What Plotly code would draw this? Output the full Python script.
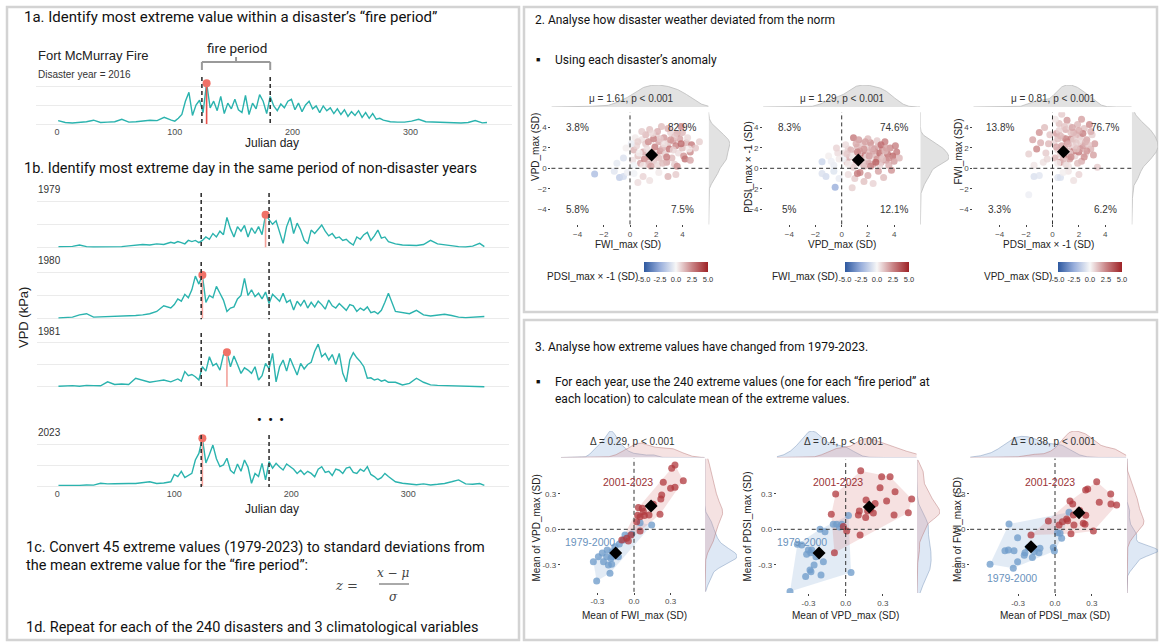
import numpy as np
import plotly.graph_objects as go

W, H = 1160, 643
SLIDE = "Roboto"
GG = "Liberation Sans"
TEAL = "#2bb3ae"
SALMON = "#f07167"

# ---------------- DATA: panel 1 (daily VPD, kPa) ----------------
DAYS_EARLY = list(range(1, 98, 6))
DAYS_ACTIVE = list(range(100, 284, 3))
DAYS_LATE = list(range(289, 362, 6)) + [365]
DAYS = DAYS_EARLY + DAYS_ACTIVE + DAYS_LATE
FIRE_START, FIRE_END = 123, 181

VPD_2016 = ([0.18, 0.08, 0.05, 0.07, 0.12, 0.2, 0.08, 0.1, 0.12, 0.25, 0.1, 0.12, 0.15, 0.2, 0.18, 0.35, 0.2] +
            [0.15, 0.3, 0.5, 1.2, 1.67, 0.45, 1.0, 1.25, 0.6, 2.15,
             0.85, 1.2, 0.7, 1.45, 0.55, 1.1, 0.8, 1.3, 0.75, 0.6,
             1.5, 0.5, 1.1, 0.8, 1.55, 1.2, 0.55, 1.45, 0.95, 0.7,
             1.05, 0.85, 1.2, 1.3, 0.75, 1.1, 0.65, 1.0, 1.2, 0.8,
             0.95, 0.6, 0.95, 0.7, 0.85, 0.55, 0.8, 0.5, 0.75, 0.4,
             0.65, 0.45, 0.7, 0.35, 0.6, 0.3, 0.55, 0.25, 0.3, 0.2,
             0.15, 0.12] +
            [0.1, 0.1, 0.15, 0.25, 0.12, 0.1, 0.08, 0.06, 0.05, 0.05, 0.08, 0.18, 0.06, 0.08])
VPD_1979 = ([0.03, 0.02, 0.04, 0.1, 0.03, 0.02, 0.02, 0.03, 0.04, 0.03, 0.06, 0.08, 0.12, 0.1, 0.15, 0.12, 0.22] +
            [0.18, 0.25, 0.2, 0.15, 0.3, 0.25, 0.3, 0.2, 0.3, 0.45,
             0.35, 0.6, 0.45, 0.7, 0.55, 1.3, 0.8, 0.45, 0.9, 0.7,
             0.95, 0.45, 0.85, 0.6, 0.9, 0.55, 1.41, 1.2, 1.0, 1.15,
             0.6, 0.17, 0.9, 1.3, 0.6, 1.05, 0.75, 0.3, 0.15, 0.75,
             0.6, 0.8, 0.97, 0.7, 0.5, 0.6, 0.4, 0.45, 0.3, 0.35,
             0.2, 0.1, 0.45, 0.35, 0.55, 0.65, 0.3, 0.5, 0.75, 0.4,
             0.45, 0.25] +
            [0.15, 0.1, 0.1, 0.08, 0.12, 0.3, 0.15, 0.1, 0.08, 0.03, 0.02, 0.05, 0.17, 0.03])
VPD_1980 = ([0.02, 0.03, 0.05, 0.15, 0.2, 0.05, 0.06, 0.08, 0.06, 0.1, 0.08, 0.12, 0.15, 0.2, 0.3, 0.55, 0.45] +
            [0.6, 0.85, 0.75, 1.05, 0.9, 1.25, 1.85, 1.5, 1.9, 0.7,
             1.0, 0.9, 1.4, 1.1, 0.8, 0.3, 0.45, 0.5, 0.85, 1.0,
             1.75, 1.0, 1.25, 0.95, 1.1, 0.85, 1.15, 0.65, 1.05, 0.9,
             0.75, 1.1, 0.7, 0.8, 0.36, 0.75, 0.55, 0.8, 0.45, 0.7,
             0.5, 0.75, 0.6, 0.4, 0.8, 0.55, 0.45, 0.65, 0.5, 0.35,
             0.6, 0.55, 0.3, 0.45, 0.35, 0.5, 0.25, 0.3, 0.2, 0.35,
             0.7, 1.1] +
            [0.3, 0.25, 0.2, 0.35, 0.15, 0.1, 0.15, 0.18, 0.12, 0.05, 0.03, 0.04, 0.05, 0.08])
VPD_1981 = ([0.02, 0.03, 0.05, 0.02, 0.06, 0.05, 0.04, 0.22, 0.1, 0.12, 0.1, 0.38, 0.3, 0.2, 0.25, 0.3, 0.22] +
            [0.28, 0.35, 0.25, 0.68, 0.5, 0.55, 0.45, 0.3, 0.9, 0.7,
             1.35, 0.95, 1.05, 0.75, 1.43, 1.55, 0.9, 1.38, 1.0, 0.6,
             0.85, 0.75, 0.6, 0.9, 0.3, 0.5, 1.05, 0.8, 1.5, 0.22,
             0.9, 1.2, 0.7, 1.28, 0.9, 0.53, 1.05, 0.8, 1.0, 1.1,
             1.6, 1.92, 1.35, 1.5, 1.2, 1.45, 1.0, 1.5, 0.6, 0.22,
             1.2, 1.53, 1.3, 1.13, 0.9, 0.38, 0.4, 0.3, 0.35, 0.25,
             0.3, 0.2] +
            [0.2, 0.08, 0.15, 0.38, 0.2, 0.08, 0.06, 0.05, 0.04, 0.02, 0.02, 0.02, 0.02, 0.0])
VPD_2023 = ([0.03, 0.02, 0.04, 0.03, 0.05, 0.04, 0.13, 0.1, 0.11, 0.1, 0.12, 0.12, 0.15, 0.2, 0.12, 0.14, 0.2] +
            [0.55, 0.45, 0.7, 0.4, 0.5, 0.6, 1.24, 1.55, 2.27, 1.1,
             1.5, 1.95, 1.3, 0.92, 1.0, 1.32, 0.75, 0.6, 1.05, 0.7,
             1.24, 0.9, 0.13, 0.6, 0.45, 1.08, 0.29, 1.16, 0.85, 1.08,
             0.9, 0.76, 1.05, 0.92, 0.8, 0.6, 0.75, 0.55, 0.7, 0.6,
             0.44, 0.8, 0.92, 0.65, 0.7, 0.5, 0.8, 0.75, 0.6, 0.85,
             0.9, 0.65, 0.6, 0.8, 0.7, 0.92, 0.55, 0.45, 0.3, 0.4,
             0.6, 0.45] +
            [0.2, 0.13, 0.08, 0.06, 0.1, 0.05, 0.08, 0.12, 0.2, 0.29, 0.1, 0.08, 0.12, 0.03])

# ---------------- DATA: panel 2 (anomalies, SD) ----------------
# (FWI_max, VPD_max, PDSI_max x -1)
S2A = [(0.3,1.8,1.5),(0.5,2.2,0.8),(0.6,1.2,1.2),(0.8,0.5,2.0),(0.9,2.8,0.5),(1.0,1.6,1.8),(1.1,0.9,2.5),(1.2,2.4,1.0),(1.3,1.9,0.6),(1.4,0.4,1.6),
       (1.5,3.8,1.2),(1.5,1.1,2.2),(1.6,2.7,0.4),(1.7,1.5,1.9),(1.8,0.7,1.1),(1.9,2.1,2.8),(2.0,3.2,0.9),(2.0,1.3,1.5),(2.1,0.3,0.7),(2.2,2.6,1.8),
       (2.3,1.7,2.4),(2.4,4.1,1.3),(2.4,0.9,0.5),(2.5,2.0,1.6),(2.6,3.0,2.1),(2.7,1.4,0.9),(2.8,0.6,1.8),(2.9,2.4,1.2),(3.0,1.9,3.0),(3.1,3.5,0.8),
       (3.2,1.0,1.4),(3.3,2.7,2.0),(3.4,0.4,1.0),(3.5,2.2,2.6),(3.6,3.4,1.7),(3.7,1.5,0.6),(3.8,2.9,1.9),(3.9,4.1,2.5),(4.0,2.0,1.3),(4.1,1.2,2.2),
       (4.2,0.9,3.0),(4.3,2.5,1.5),(4.4,3.0,0.7),(4.6,1.6,2.4),(4.6,0.8,1.8),(4.7,2.3,2.8),(5.0,2.0,1.1),(5.3,2.6,0.9),(0.2,0.8,0.6),(0.4,3.0,0.3),
       (0.7,1.5,0.2),(1.2,3.3,1.4),(1.6,0.2,1.9),(1.8,2.9,2.6),(2.2,1.0,1.2),(2.6,2.4,0.5),(2.9,3.9,1.6),(3.3,1.8,0.8),(3.6,0.2,2.3),(0.1,2.4,-0.4),
       (0.9,3.6,1.0),(1.4,2.6,2.3),(2.1,3.6,1.6),(2.8,1.1,2.7),(3.4,3.1,1.1),(4.0,3.5,1.4),(4.5,1.9,0.3),(1.0,0.3,0.4),(2.5,0.5,1.3),(0.3,0.3,-0.2),
       (1.7,3.4,0.7),(3.1,2.8,2.2),(3.9,2.4,3.2),(0.6,2.6,0.9),(2.3,2.9,1.0),
       (-0.5,1.0,-0.8),(-0.3,2.0,0.2),(-1.0,0.5,-0.5),
       (-2.7,-0.55,-2.0),(-0.8,-0.9,-1.5),(-0.5,-0.8,-1.0),(-1.2,-0.3,-0.6),(-0.2,-0.4,-0.3),
       (1.0,-0.8,0.8),(2.9,-0.8,1.5),(0.3,-0.5,-0.2),(1.5,-1.2,0.5),(3.5,-0.6,1.0),(2.2,-0.4,0.3),(0.6,-1.4,0.6)]
# (VPD_max, PDSI_max x -1, FWI_max)
S2B = [(0.2,1.5,0.5),(0.4,0.6,1.2),(0.5,1.9,0.8),(0.6,1.1,1.6),(0.8,0.3,0.4),(0.9,3.0,2.8),(1.0,1.4,1.0),(1.1,0.8,2.2),(1.2,2.1,1.4),(1.3,0.5,0.7),
       (1.4,1.7,1.9),(1.5,1.0,2.6),(1.6,2.4,1.1),(1.7,0.2,1.5),(1.8,1.3,3.0),(1.9,2.0,0.9),(2.0,0.7,2.0),(2.1,1.6,1.3),(2.2,2.5,2.4),(2.3,1.1,0.6),
       (2.4,0.4,1.7),(2.5,1.9,2.9),(2.6,1.3,1.2),(2.7,0.9,2.2),(2.8,2.2,1.5),(2.9,1.5,3.2),(3.0,0.6,1.8),(3.1,1.8,2.5),(3.2,1.1,1.0),(3.3,2.6,2.7),
       (3.4,0.8,2.1),(3.5,1.4,3.0),(3.6,0.3,1.6),(3.7,2.0,2.4),(3.9,1.2,3.3),(4.0,0.7,2.0),(4.2,1.6,2.8),(4.4,1.0,1.4),(0.1,0.9,-0.2),(0.3,2.3,0.6),
       (0.7,1.8,1.5),(0.9,0.1,0.9),(1.3,2.8,2.0),(1.6,0.6,1.1),(1.9,1.1,0.5),(2.2,0.2,2.6),(2.4,1.7,1.8),(2.7,2.7,1.0),(3.0,2.3,3.1),(3.3,1.7,1.3),
       (3.6,1.0,2.3),(0.5,0.4,0.3),(1.1,2.4,1.7),(1.7,1.9,2.2),(2.0,2.9,1.4),(2.9,0.3,0.8),(3.4,2.0,1.9),(4.1,2.2,2.6),(0.8,1.2,0.2),(1.4,0.9,1.3),
       (2.6,0.6,3.4),(1.2,1.6,2.5),(2.3,2.0,1.6),(3.1,0.9,1.2),(1.8,2.6,1.9),(0.4,1.4,1.0),(2.1,1.2,2.0),
       (-1.5,0.65,-1.2),(-0.3,1.5,0.6),(-0.6,0.3,-0.4),(-0.2,0.9,0.3),(-1.0,1.2,0.2),(-0.4,2.0,0.8),(-0.8,0.7,-0.3),
       (-1.2,-0.8,-1.0),(-0.6,-0.3,-0.7),(-0.5,-1.85,-2.5),(-1.5,-0.5,-0.8),(-0.2,-1.0,-0.4),
       (0.5,-0.6,0.6),(1.0,-1.0,1.0),(1.4,-0.4,2.5),(1.7,-1.3,1.2),(2.0,-0.7,1.6),(2.4,-1.5,0.8),(2.8,-0.3,1.9),(0.8,-1.9,0.9),(3.2,-0.9,1.3),(1.2,-0.5,2.8),(3.8,-0.2,2.2)]
# (PDSI_max x -1, FWI_max, VPD_max)
S2C = [(0.1,2.5,0.8),(0.2,1.0,1.5),(0.3,3.4,2.0),(0.4,1.8,0.6),(0.5,4.4,1.2),(0.6,0.6,2.5),(0.7,5.3,1.0),(0.7,2.2,1.8),(0.8,3.0,0.9),(0.9,1.3,2.8),
       (1.0,3.8,1.6),(1.0,0.4,0.7),(1.1,2.6,2.2),(1.2,1.7,1.3),(1.3,4.1,0.5),(1.3,0.9,1.9),(1.4,2.9,2.6),(1.5,2.0,1.1),(1.6,3.5,1.7),(1.7,1.2,0.8),
       (1.8,2.5,2.3),(1.9,4.3,1.4),(2.0,1.6,2.9),(2.1,3.1,1.0),(2.2,0.7,1.6),(2.3,2.2,2.1),(2.4,3.9,1.2),(2.5,1.4,0.6),(2.6,2.8,1.8),(2.8,4.3,2.4),
       (2.9,1.9,1.5),(3.0,3.3,0.9),(3.2,2.4,2.0),(3.4,0.1,1.0),(0.2,4.8,0.4),(0.4,2.9,1.3),(0.6,1.4,0.9),(0.9,2.0,1.7),(1.1,4.7,2.1),(1.2,0.2,0.5),
       (1.4,3.5,1.2),(1.6,1.7,2.7),(1.8,3.3,1.4),(2.0,2.6,0.7),(2.2,4.8,1.9),(2.4,1.1,2.3),(2.7,2.3,1.1),(2.9,3.6,1.6),(0.3,2.1,1.8),(0.5,3.7,0.8),
       (0.8,0.9,1.4),(1.0,2.9,2.5),(1.3,1.5,1.0),(1.5,4.0,1.8),(1.7,2.2,0.6),(1.9,0.5,1.3),(2.1,1.9,2.0),(2.3,3.4,2.6),(2.5,2.6,1.5),(0.4,0.5,0.3),
       (0.9,4.1,1.1),(1.2,2.4,1.6),(1.6,2.8,0.9),(2.0,3.7,1.7),(2.6,1.7,2.2),(0.6,3.2,1.4),(1.4,1.1,2.4),(1.8,1.9,1.2),(3.1,1.3,1.9),
       (-1.5,2.8,1.8),(-0.5,1.5,1.0),(-1.0,3.5,2.2),(-0.3,2.4,1.4),(-1.8,1.4,0.9),(-0.7,0.6,0.5),(-1.2,1.9,2.5),(-0.2,3.3,1.1),(-0.9,2.5,1.6),(-0.4,0.9,0.7),(-1.4,0.3,0.4),(-0.6,4.0,1.3),
       (-1.4,-0.8,-0.8),(-1.0,-0.7,-0.6),(-1.8,-2.6,-0.3),
       (0.4,-0.9,-0.6),(0.6,-0.9,-0.8),(1.2,-0.3,0.4),(2.0,-0.6,0.8),(0.8,-0.4,0.2),(1.6,-1.2,0.5)]
S2_MEANS = [(1.65, 1.3), (1.27, 0.82), (0.83, 1.63)]
S2_TITLES = ["μ = 1.61, p < 0.001", "μ = 1.29, p < 0.001", "μ = 0.81, p < 0.001"]
S2_QUADS = [["3.8%", "82.9%", "5.8%", "7.5%"], ["8.3%", "74.6%", "5%", "12.1%"], ["13.8%", "76.7%", "3.3%", "6.2%"]]
S2_XLAB = ["FWI_max (SD)", "VPD_max (SD)", "PDSI_max × -1 (SD)"]
S2_YLAB = ["VPD_max (SD)", "PDSI_max × -1 (SD)", "FWI_max (SD)"]
S2_CLAB = ["PDSI_max × -1 (SD)", "FWI_max (SD)", "VPD_max (SD)"]

# ---------------- DATA: panel 3 (annual means of extremes, SD) ----------------
S3A_RED = [(0.336,0.545),(0.309,0.517),(0.404,0.412),(0.336,0.356),(0.30,0.347),(0.24,0.398),(0.227,0.291),(0.22,0.257),(0.158,0.212),(0.123,0.121),
           (0.213,0.127),(0.036,0.184),(0.068,0.178),(0.077,0.15),(0.03,0.12),(0.05,0.107),(0.085,0.116),(0.022,0.065),(0.05,-0.014),(-0.025,-0.048),
           (-0.06,-0.076),(-0.1,-0.09),(-0.046,-0.1)]
S3A_BLUE = [(0.05,0.056),(0.145,0.037),(-0.019,-0.042),(-0.074,-0.048),(-0.087,-0.09),(-0.12,-0.124),(-0.156,-0.147),(-0.178,-0.19),(-0.189,-0.246),(-0.224,-0.232),
            (-0.25,-0.274),(-0.292,-0.232),(-0.333,-0.274),(-0.21,-0.302),(-0.183,-0.297),(-0.128,-0.232),(-0.197,-0.373),(-0.306,-0.438),(-0.156,-0.19),(-0.22,-0.175),
            (-0.18,-0.232),(-0.26,-0.2)]
S3B_RED = [(0.121,0.497),(0.29,0.446),(0.358,0.446),(0.277,0.353),(0.398,0.319),(0.532,0.257),(0.33,0.24),(0.237,0.218),(0.164,0.249),(0.11,0.155),
           (0.177,0.155),(0.223,0.138),(0.161,0.099),(0.39,0.121),(0.505,0.141),(-0.081,0.3),(-0.116,0.127),(-0.019,0.023),(0.008,-0.014),(0.116,-0.048),
           (-0.091,-0.198),(0.102,0.121),(0.2,0.17)]
S3B_BLUE = [(0.022,0.116),(-0.032,0.042),(-0.073,0.042),(-0.1,0.042),(-0.207,0.0),(-0.167,-0.02),(-0.39,-0.127),(-0.301,-0.175),(-0.282,-0.198),(-0.315,-0.212),
            (-0.18,-0.274),(-0.255,-0.302),(-0.288,-0.345),(-0.323,-0.401),(-0.199,-0.387),(0.043,-0.367),(-0.449,-0.528),(-0.274,-0.175),(-0.355,-0.133),(-0.24,-0.232),
            (-0.28,-0.36),(-0.05,0.02)]
S3C_RED = [(0.339,0.404),(0.266,0.342),(0.249,0.333),(0.453,0.3),(0.36,0.229),(0.455,0.215),(0.501,0.206),(0.122,0.24),(0.144,0.215),(0.149,0.121),
           (0.095,0.088),(0.103,0.073),(0.154,0.037),(0.23,0.051),(0.244,0.042),(0.312,-0.014),(0.13,-0.037),(0.033,0.037),(0.06,0.065),(-0.054,0.071),
           (-0.195,-0.048),(0.2,0.16),(0.25,0.12)]
S3C_BLUE = [(0.114,0.144),(0.041,-0.034),(0.054,-0.076),(-0.014,-0.155),(-0.005,-0.184),(-0.374,0.045),(-0.304,-0.071),(-0.407,-0.181),(-0.379,-0.175),(-0.333,-0.181),
            (-0.217,-0.155),(-0.168,-0.189),(-0.13,-0.198),(-0.184,-0.24),(-0.304,-0.274),(-0.528,-0.297),(-0.339,-0.33),(-0.122,-0.161),(-0.244,-0.198),(-0.176,-0.161),
            (0.02,-0.03),(-0.25,-0.22)]
S3_RED_MEANS = [(0.14, 0.197), (0.19, 0.19), (0.195, 0.14)]
S3_BLUE_MEANS = [(-0.15, -0.2), (-0.215, -0.2), (-0.195, -0.148)]
S3_TITLES = ["Δ = 0.29, p < 0.001", "Δ = 0.4, p < 0.001", "Δ = 0.38, p < 0.001"]
S3_XLAB = ["Mean of FWI_max (SD)", "Mean of VPD_max (SD)", "Mean of PDSI_max (SD)"]
S3_YLAB = ["Mean of VPD_max (SD)", "Mean of PDSI_max (SD)", "Mean of FWI_max (SD)"]
PERIODS = ["2001-2023", "1979-2000"]

# ---------------- helpers ----------------
def px(x): return x / W
def py(y): return 1 - y / H

def clamp(v): return min(1.0, max(0.0, v))

def xdom(zero, ppu, lo, hi): return [clamp(px(zero + lo * ppu)), clamp(px(zero + hi * ppu))]
def ydom(zero, ppu, lo, hi): return [clamp(py(zero - lo * ppu)), clamp(py(zero - hi * ppu))]

fig = go.Figure()
axes = {}
annotations = []
shapes = []

def ref(i, a):
    return a if i == 1 else f"{a}{i}"

def set_axes(i, xd, xr, yd, yr, xo=None, yo=None):
    base = dict(showgrid=False, zeroline=False, showline=False, ticks="", showticklabels=False, fixedrange=True)
    xa = dict(base, domain=xd, range=xr, anchor=ref(i, "y"))
    ya = dict(base, domain=yd, range=yr, anchor=ref(i, "x"))
    if xo: xa.update(xo)
    if yo: ya.update(yo)
    axes["xaxis" if i == 1 else f"xaxis{i}"] = xa
    axes["yaxis" if i == 1 else f"yaxis{i}"] = ya

def ann(text, x, y, size, color="#111", xanchor="left", yanchor="middle", family=SLIDE, angle=0):
    annotations.append(dict(text=text, x=px(x), y=py(y), xref="paper", yref="paper", xanchor=xanchor,
                            yanchor=yanchor, showarrow=False, textangle=angle,
                            font=dict(size=size, color=color, family=family)))

def dann(text, x, y, i, size, color="#333", family=GG):
    annotations.append(dict(text=text, x=x, y=y, xref=ref(i, "x"), yref=ref(i, "y"), showarrow=False,
                            xanchor="center", yanchor="middle", font=dict(size=size, color=color, family=family)))

def kde(vals, grid):
    v = np.asarray(vals, float)
    n = len(v)
    sd = v.std(ddof=1)
    iqr = np.subtract(*np.percentile(v, [75, 25]))
    bw = 0.9 * min(sd, iqr / 1.34 if iqr > 0 else sd) * n ** -0.2
    g = np.asarray(grid)[:, None]
    return (np.exp(-0.5 * ((g - v[None, :]) / bw) ** 2).sum(1) / (n * bw * np.sqrt(2 * np.pi)))

def hull(pts):
    p = sorted(set(pts))
    def cross(o, a, b): return (a[0]-o[0])*(b[1]-o[1]) - (a[1]-o[1])*(b[0]-o[0])
    lo, up = [], []
    for q in p:
        while len(lo) >= 2 and cross(lo[-2], lo[-1], q) <= 0: lo.pop()
        lo.append(q)
    for q in reversed(p):
        while len(up) >= 2 and cross(up[-2], up[-1], q) <= 0: up.pop()
        up.append(q)
    h = lo[:-1] + up[:-1]
    return h + [h[0]]

# ---------------- section borders ----------------
for (x0, y0, x1, y1) in [(7, 7, 519, 640), (524, 7, 1157, 312), (524, 320, 1157, 640)]:
    shapes.append(dict(type="rect", xref="paper", yref="paper", x0=px(x0), x1=px(x1), y0=py(y0), y1=py(y1),
                       line=dict(color="#d3d3d3", width=2.5), fillcolor="rgba(0,0,0,0)", layer="below"))

# ---------------- section 1 ----------------
ann("1a. Identify most extreme value within a disaster’s “fire period”", 22, 17, 15)
ann("Fort McMurray Fire", 36, 55, 13, "#222", family=GG)
ann("Disaster year = 2016", 36, 74, 10, "#333", family=GG)
ann("fire period", 237, 48, 13.5, "#222", xanchor="center")
ann("1b. Identify most extreme day in the same period of non-disaster years", 22, 168, 14.5)

panels1 = [
    # (axis i, values, zero_px, px_per_unit, label, label_y, xzero, xppu, dash_top)
    (1, VPD_2016, 124, 19.0, None, None, 57.0, 1.178, 77),
    (2, VPD_1979, 247.3, 23.0, "1979", 190, 57.3, 1.17, 193),
    (3, VPD_1980, 318.3, 22.8, "1980", 260, 57.3, 1.17, 262),
    (4, VPD_1981, 386.7, 22.2, "1981", 331, 57.3, 1.17, 333),
    (5, VPD_2023, 486.0, 21.0, "2023", 432, 57.3, 1.17, 435),
]
for (i, vals, z, ppu, lab, laby, xz, xppu, dtop) in panels1:
    show_x = i in (1, 5)
    set_axes(i, xdom(xz, xppu, -17.5, 386), [-17.5, 386], ydom(z, ppu, -0.06, 2.45), [-0.06, 2.45],
             xo=dict(showticklabels=show_x, tickvals=[0, 100, 200, 300],
                     tickfont=dict(size=9, color="#4d4d4d", family=GG)),
             yo=dict(showgrid=True, tickvals=[0, 1, 2], gridcolor="#ebebeb", gridwidth=1))
    fig.add_trace(go.Scatter(x=DAYS, y=vals, mode="lines", line=dict(color=TEAL, width=1.4),
                             xaxis=ref(i, "x"), yaxis=ref(i, "y"), hoverinfo="skip", showlegend=False))
    fp = [(d, v) for d, v in zip(DAYS, vals) if FIRE_START <= d <= FIRE_END]
    dmax, vmax = max(fp, key=lambda t: t[1])
    stem_col = "#e9514a" if i == 1 else "#f2a19a"
    fig.add_trace(go.Scatter(x=[dmax, dmax], y=[0, vmax], mode="lines", line=dict(color=stem_col, width=1.6),
                             xaxis=ref(i, "x"), yaxis=ref(i, "y"), hoverinfo="skip", showlegend=False))
    fig.add_trace(go.Scatter(x=[dmax], y=[vmax], mode="markers", marker=dict(color=SALMON, size=8),
                             cliponaxis=False, xaxis=ref(i, "x"), yaxis=ref(i, "y"), hoverinfo="skip", showlegend=False))
    for d in (FIRE_START, FIRE_END):
        shapes.append(dict(type="line", xref=ref(i, "x"), yref="paper", x0=d, x1=d, y0=py(dtop), y1=py(z + 1),
                           line=dict(color="#333", width=1.6, dash="4px,3px")))
    if lab:
        ann(lab, 36, laby, 10, "#333", family=GG)

# bracket over fire period
for (x0, y0, x1, y1) in [(FIRE_START, 70, FIRE_START, 62), (FIRE_START, 62, FIRE_END, 62), (FIRE_END, 62, FIRE_END, 70),
                         ((FIRE_START + FIRE_END) / 2, 62, (FIRE_START + FIRE_END) / 2, 57)]:
    shapes.append(dict(type="line", xref="x", yref="paper", x0=x0, x1=x1, y0=py(y0), y1=py(y1),
                       line=dict(color="#9a9a9a", width=2)))

ann("Julian day", 272, 143, 12, "#222", xanchor="center", family=GG)
ann("Julian day", 272, 509, 12, "#222", xanchor="center", family=GG)
ann("VPD (kPa)", 23, 318, 13, "#222", xanchor="center", family=GG, angle=-90)
ann("<b>•  •  •</b>", 270, 419, 13, "#111", xanchor="center")

ann("1c. Convert 45 extreme values (1979-2023) to standard deviations from", 24, 547, 14.5)
ann("the mean extreme value for the “fire period”:", 24, 565, 14.5)
ann("<i>z</i> =", 346, 585, 13, "#444", xanchor="center", family="DejaVu Serif")
ann("<i>x</i> − <i>μ</i>", 393, 573, 12, "#444", xanchor="center", family="DejaVu Serif")
ann("<i>σ</i>", 393, 597, 12, "#444", xanchor="center", family="DejaVu Serif")
shapes.append(dict(type="line", xref="paper", yref="paper", x0=px(379), x1=px(409), y0=py(584), y1=py(584),
                   line=dict(color="#555", width=1)))
ann("1d. Repeat for each of the 240 disasters and 3 climatological variables", 24, 627, 14.5)

# ---------------- section 2 ----------------
ann("2. Analyse how disaster weather deviated from the norm", 533, 20, 12)
ann("■", 538, 60, 7, "#111", xanchor="center")
ann("Using each disaster’s anomaly", 553, 60, 12)

CSCALE = [[0, "#2d589f"], [0.25, "#98aedb"], [0.5, "#f7f7f7"], [0.75, "#c98486"], [1, "#9e2226"]]
s2cfg = [
    # data, x-zero px, x ppu, y-title center, xlab center, cbar x, clab right x, right density px
    (S2A, 630.0, 13.1, 147, 628, 644, 640, (708.6, 730)),
    (S2B, 841.7, 13.1, 167, 842, 845, 840, (920.3, 949)),
    (S2C, 1052.5, 13.2, 152, 1048, 1058, 1054, (1131.7, 1158)),
]
yz2, yppu2 = 168.3, 10.2
grid2 = np.linspace(-6, 6, 300)
for k, (data, xz, xppu, ytc, xlc, cbx, clx, rd) in enumerate(s2cfg):
    i_sc, i_top, i_rt = 6 + k, 9 + k, 12 + k
    xs = [d[0] for d in data]; ys = [d[1] for d in data]; cs = [d[2] for d in data]
    tickopts = dict(showticklabels=True, ticks="outside", ticklen=2, tickwidth=1, tickcolor="#444",
                    tickvals=[-4, -2, 0, 2, 4], tickfont=dict(size=8, color="#4d4d4d", family=GG))
    set_axes(i_sc, xdom(xz, xppu, -6, 6), [-6, 6], ydom(yz2, yppu2, -5.5, 5.5), [-5.5, 5.5],
             xo=dict(tickopts), yo=dict(tickopts))
    cax = "coloraxis" if k == 0 else f"coloraxis{k + 1}"
    fig.add_trace(go.Scatter(x=xs, y=ys, mode="markers",
                             marker=dict(color=cs, coloraxis=cax, size=7, opacity=0.8, line=dict(width=0)),
                             xaxis=ref(i_sc, "x"), yaxis=ref(i_sc, "y"), hoverinfo="skip", showlegend=False))
    mx, my = S2_MEANS[k]
    fig.add_trace(go.Scatter(x=[mx], y=[my], mode="markers", marker=dict(symbol="diamond", color="black", size=10),
                             xaxis=ref(i_sc, "x"), yaxis=ref(i_sc, "y"), hoverinfo="skip", showlegend=False))
    shapes.append(dict(type="line", xref=ref(i_sc, "x"), yref=ref(i_sc, "y") + " domain", x0=0, x1=0, y0=0, y1=1,
                       line=dict(color="#333", width=1, dash="4px,3px")))
    shapes.append(dict(type="line", xref=ref(i_sc, "x") + " domain", yref=ref(i_sc, "y"), x0=0, x1=1, y0=0, y1=0,
                       line=dict(color="#333", width=1, dash="4px,3px")))
    for (tx, ty), t in zip([(-4, 4), (4, 4), (-4, -4), (4, -4)], S2_QUADS[k]):
        dann(t, tx, ty, i_sc, 10)
    # top marginal density
    dx = kde(xs, grid2)
    set_axes(i_top, xdom(xz, xppu, -6, 6), [-6, 6], [py(107), py(85)], [0, dx.max() * 1.0])
    fig.add_trace(go.Scatter(x=grid2, y=dx, mode="lines", fill="tozeroy", fillcolor="#e2e2e2",
                             line=dict(color="#bdbdbd", width=0.8), xaxis=ref(i_top, "x"), yaxis=ref(i_top, "y"),
                             hoverinfo="skip", showlegend=False))
    dy = kde(ys, grid2)
    set_axes(i_rt, [px(rd[0]), px(rd[1])], [0, dy.max()], ydom(yz2, yppu2, -5.5, 5.5), [-5.5, 5.5])
    fig.add_trace(go.Scatter(x=dy, y=grid2, mode="lines", fill="tozerox", fillcolor="#e2e2e2",
                             line=dict(color="#bdbdbd", width=0.8), xaxis=ref(i_rt, "x"), yaxis=ref(i_rt, "y"),
                             hoverinfo="skip", showlegend=False))
    ann(S2_TITLES[k], xz + 1, 98, 10, "#333", xanchor="center", family=GG)
    ann(S2_XLAB[k], xlc, 244, 10, "#222", xanchor="center", family=GG)
    ann(S2_YLAB[k], xz - 94, ytc, 10, "#222", xanchor="center", family=GG, angle=-90)
    ann(S2_CLAB[k], clx, 276, 10, "#222", xanchor="right", family=GG)
    axes[cax] = dict(colorscale=CSCALE, cmin=-5, cmax=5,
                     colorbar=dict(orientation="h", x=px(cbx), xanchor="left", y=py(262), yanchor="top",
                                   len=64, lenmode="pixels", thickness=10, thicknessmode="pixels",
                                   tickvals=[-5, -2.5, 0, 2.5, 5], ticktext=["-5.0", "-2.5", "0.0", "2.5", "5.0"],
                                   tickangle=0, tickfont=dict(size=7.5, color="#333", family=GG),
                                   outlinewidth=0, ticks="", xpad=0, ypad=0))

# ---------------- section 3 ----------------
ann("3. Analyse how extreme values have changed from 1979-2023.", 533, 347, 12)
ann("■", 538, 382, 7, "#111", xanchor="center")
ann("For each year, use the 240 extreme values (one for each “fire period” at", 553, 382, 12)
ann("each location) to calculate mean of the extreme values.", 553, 399, 12)

RED_PT = "rgba(176,56,62,0.75)"
BLUE_PT = "rgba(112,156,202,0.78)"
RED_FILL = "rgba(214,120,120,0.22)"
BLUE_FILL = "rgba(150,182,220,0.28)"
s3cfg = [
    (S3A_RED, S3A_BLUE, 634.0, 122, [-0.6, 0.58], [-0.53, 0.6], (705, 737), 535.5, 528, 634,
     (-0.05, 0.4), (-0.36, -0.105)),
    (S3B_RED, S3B_BLUE, 845.7, 124, [-0.556, 0.573], [-0.54, 0.59], (917, 940), 746.5, 527, 845,
     (-0.06, 0.4), (-0.355, -0.105)),
    (S3C_RED, S3C_BLUE, 1055.0, 123, [-0.69, 0.58], [-0.54, 0.6], (1127, 1158), 957, 530, 1055,
     (-0.043, 0.4), (-0.346, -0.41)),
]
yz3, yppu3 = 529.3, 118
for k, (red, blue, xz, xppu, xr, yr, rd, ytx, yty, xlc, rlab, blab) in enumerate(s3cfg):
    i_sc, i_top, i_rt = 15 + k, 18 + k, 21 + k
    tickopts = dict(showticklabels=True, ticks="outside", ticklen=2, tickwidth=1, tickcolor="#444",
                    tickvals=[-0.3, 0, 0.3], ticktext=["-0.3", "0.0", "0.3"],
                    tickfont=dict(size=8, color="#4d4d4d", family=GG))
    set_axes(i_sc, xdom(xz, xppu, xr[0], xr[1]), xr, ydom(yz3, yppu3, yr[0], yr[1]), yr,
             xo=dict(tickopts), yo=dict(tickopts))
    for pts, fc in [(blue, BLUE_FILL), (red, RED_FILL)]:
        h = hull(pts)
        fig.add_trace(go.Scatter(x=[p[0] for p in h], y=[p[1] for p in h], mode="lines", fill="toself",
                                 fillcolor=fc, line=dict(width=0), xaxis=ref(i_sc, "x"), yaxis=ref(i_sc, "y"),
                                 hoverinfo="skip", showlegend=False))
    shapes.append(dict(type="line", xref=ref(i_sc, "x"), yref=ref(i_sc, "y") + " domain", x0=0, x1=0, y0=0, y1=1,
                       line=dict(color="#333", width=1, dash="4px,3px")))
    shapes.append(dict(type="line", xref=ref(i_sc, "x") + " domain", yref=ref(i_sc, "y"), x0=0, x1=1, y0=0, y1=0,
                       line=dict(color="#333", width=1, dash="4px,3px")))
    for pts, col in [(blue, BLUE_PT), (red, RED_PT)]:
        fig.add_trace(go.Scatter(x=[p[0] for p in pts], y=[p[1] for p in pts], mode="markers",
                                 marker=dict(color=col, size=7, line=dict(width=0)),
                                 xaxis=ref(i_sc, "x"), yaxis=ref(i_sc, "y"), hoverinfo="skip", showlegend=False))
    for m in (S3_RED_MEANS[k], S3_BLUE_MEANS[k]):
        fig.add_trace(go.Scatter(x=[m[0]], y=[m[1]], mode="markers", marker=dict(symbol="diamond", color="black", size=10),
                                 xaxis=ref(i_sc, "x"), yaxis=ref(i_sc, "y"), hoverinfo="skip", showlegend=False))
    dann(PERIODS[0], rlab[0], rlab[1], i_sc, 10.5, "#9b3236")
    dann(PERIODS[1], blab[0], blab[1], i_sc, 10.5, "#6a93bd")
    # marginal densities
    gx = np.linspace(xr[0], xr[1], 250)
    gy = np.linspace(yr[0], yr[1], 250)
    dxb = kde([p[0] for p in blue], gx); dxr = kde([p[0] for p in red], gx)
    dyb = kde([p[1] for p in blue], gy); dyr = kde([p[1] for p in red], gy)
    set_axes(i_top, xdom(xz, xppu, xr[0], xr[1]), xr, [py(457.5), py(431)], [0, max(dxb.max(), dxr.max())])
    set_axes(i_rt, [px(rd[0]), px(rd[1])], [0, max(dyb.max(), dyr.max())], ydom(yz3, yppu3, yr[0], yr[1]), yr)
    for d, fc, lc in [(dxb, "rgba(160,190,225,0.35)", "rgba(110,140,180,0.55)"),
                      (dxr, "rgba(220,150,150,0.28)", "rgba(180,110,110,0.55)")]:
        fig.add_trace(go.Scatter(x=gx, y=d, mode="lines", fill="tozeroy", fillcolor=fc, line=dict(color=lc, width=0.8),
                                 xaxis=ref(i_top, "x"), yaxis=ref(i_top, "y"), hoverinfo="skip", showlegend=False))
    for d, fc, lc in [(dyb, "rgba(160,190,225,0.35)", "rgba(110,140,180,0.55)"),
                      (dyr, "rgba(220,150,150,0.28)", "rgba(180,110,110,0.55)")]:
        fig.add_trace(go.Scatter(x=d, y=gy, mode="lines", fill="tozerox", fillcolor=fc, line=dict(color=lc, width=0.8),
                                 xaxis=ref(i_rt, "x"), yaxis=ref(i_rt, "y"), hoverinfo="skip", showlegend=False))
    ann(S3_TITLES[k], xz - 2, 441, 10, "#333", xanchor="center", family=GG)
    ann(S3_XLAB[k], xlc, 615, 10, "#222", xanchor="center", family=GG)
    ann(S3_YLAB[k], ytx, yty, 10, "#222", xanchor="center", family=GG, angle=-90)

fig.update_layout(width=W, height=H, margin=dict(l=0, r=0, t=0, b=0), paper_bgcolor="white",
                  plot_bgcolor="rgba(0,0,0,0)", showlegend=False, annotations=annotations, shapes=shapes, **axes)
fig.write_html("out.html")
